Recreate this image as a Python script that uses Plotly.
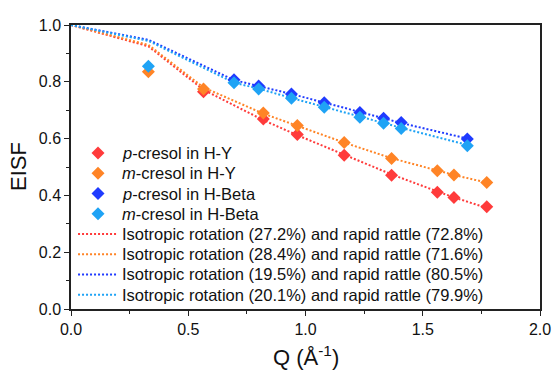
import plotly.graph_objects as go

# Measured data
q_hy = [0.33, 0.565, 0.82, 0.965, 1.165, 1.367, 1.562, 1.633, 1.773]
p_cresol_hy = [None, 0.765, 0.669, 0.614, 0.541, 0.471, 0.411, 0.393, 0.360]
m_cresol_hy = [0.835, 0.775, 0.690, 0.646, 0.586, 0.530, 0.487, 0.472, 0.445]

q_beta = [0.33, 0.695, 0.80, 0.94, 1.08, 1.232, 1.333, 1.408, 1.69]
p_cresol_beta = [None, 0.807, 0.785, 0.757, 0.726, 0.692, 0.672, 0.657, 0.599]
m_cresol_beta = [0.855, 0.797, 0.775, 0.742, 0.710, 0.675, 0.654, 0.636, 0.575]

# Fit curves
fit_q_hy = [0, 0.33, 0.565, 0.82, 0.965, 1.165, 1.367, 1.562, 1.633, 1.773]
fit_p_hy = [1.0, 0.925, 0.772, 0.665, 0.612, 0.542, 0.474, 0.414, 0.393, 0.356]
fit_m_hy = [1.0, 0.930, 0.780, 0.688, 0.645, 0.586, 0.531, 0.487, 0.472, 0.445]

fit_q_beta = [0, 0.33, 0.695, 0.80, 0.94, 1.08, 1.232, 1.333, 1.408, 1.69]
fit_p_beta = [1.0, 0.948, 0.806, 0.786, 0.757, 0.727, 0.693, 0.671, 0.655, 0.600]
fit_m_beta = [1.0, 0.944, 0.797, 0.776, 0.743, 0.711, 0.676, 0.655, 0.638, 0.578]

names_pts = ["<i>p</i>-cresol in H-Y", "<i>m</i>-cresol in H-Y",
             "<i>p</i>-cresol in H-Beta", "<i>m</i>-cresol in H-Beta"]
names_fit = ["Isotropic rotation (27.2%) and rapid rattle (72.8%)",
             "Isotropic rotation (28.4%) and rapid rattle (71.6%)",
             "Isotropic rotation (19.5%) and rapid rattle (80.5%)",
             "Isotropic rotation (20.1%) and rapid rattle (79.9%)"]
colors = ["#FF3B3B", "#FF8426", "#1F3BFF", "#1FA3F5"]

x_title = "Q (Å<sup>-1</sup>)"
y_title = "EISF"

FONT = "Liberation Sans, Arial, sans-serif"
DASH = "2px,2px"
MSIZE = 10

fig = go.Figure()

fits = [(fit_q_hy, fit_p_hy), (fit_q_hy, fit_m_hy), (fit_q_beta, fit_p_beta), (fit_q_beta, fit_m_beta)]
pts = [(q_hy, p_cresol_hy), (q_hy, m_cresol_hy), (q_beta, p_cresol_beta), (q_beta, m_cresol_beta)]

for i, (xq, yv) in enumerate(fits):
    fig.add_trace(go.Scatter(x=xq, y=yv, mode="lines", name=names_fit[i], showlegend=False,
                             line=dict(color=colors[i], width=2, dash=DASH)))
for i, (xq, yv) in enumerate(pts):
    fig.add_trace(go.Scatter(x=xq, y=yv, mode="markers", name=names_pts[i], showlegend=False,
                             marker=dict(symbol="diamond", size=MSIZE, color=colors[i],
                                         line=dict(width=0))))

# Manual legend (paper-fraction coordinates on hidden overlay axes)
leg_row0 = 0.549
leg_step = 0.0712
leg_sym_x = 0.0576
leg_line_x0, leg_line_x1 = 0.015, 0.098
leg_text_x = 0.104
rows = [leg_row0 - k * leg_step for k in range(8)]

for i in range(4):
    fig.add_trace(go.Scatter(x=[leg_sym_x], y=[rows[i]], mode="markers", showlegend=False,
                             xaxis="x2", yaxis="y2", hoverinfo="skip",
                             marker=dict(symbol="diamond", size=MSIZE, color=colors[i],
                                         line=dict(width=0))))
    fig.add_trace(go.Scatter(x=[leg_line_x0, leg_line_x1], y=[rows[4 + i]] * 2, mode="lines",
                             showlegend=False, xaxis="x2", yaxis="y2", hoverinfo="skip",
                             line=dict(color=colors[i], width=2, dash=DASH)))

annots = []
for k, txt in enumerate(names_pts + names_fit):
    annots.append(dict(x=leg_text_x, y=rows[k], xref="paper", yref="paper",
                       xanchor="left", yanchor="middle", showarrow=False,
                       text=txt, font=dict(family=FONT, size=16.5, color="#111")))
# axis titles
annots.append(dict(x=0.5, y=-0.166, xref="paper", yref="paper", xanchor="center",
                   yanchor="middle", showarrow=False, text=x_title,
                   font=dict(family=FONT, size=22, color="#111")))
annots.append(dict(x=-0.113, y=0.5, xref="paper", yref="paper", xanchor="center",
                   yanchor="middle", showarrow=False, text=y_title, textangle=-90,
                   font=dict(family=FONT, size=22, color="#111")))

axis_common = dict(showline=True, linecolor="#222", linewidth=1.5, mirror=True,
                   ticks="outside", ticklen=5, tickwidth=1.2, tickcolor="#222",
                   showgrid=False, zeroline=False, automargin=False,
                   tickfont=dict(family=FONT, size=16, color="#111"))

fig.update_layout(
    width=552, height=370,
    margin=dict(l=71, r=12, t=25, b=61),
    paper_bgcolor="white", plot_bgcolor="white",
    font=dict(family=FONT, color="#111"),
    showlegend=False,
    annotations=annots,
    xaxis=dict(range=[0, 2.0], dtick=0.5, tickformat=".1f",
               minor=dict(dtick=0.25, ticks="outside", ticklen=3, tickcolor="#222"),
               **axis_common),
    yaxis=dict(range=[0, 1.0], dtick=0.2, tickformat=".1f",
               minor=dict(dtick=0.1, ticks="outside", ticklen=3, tickcolor="#222"),
               **axis_common),
    xaxis2=dict(range=[0, 1], overlaying="x", visible=False, fixedrange=True),
    yaxis2=dict(range=[0, 1], overlaying="y", visible=False, fixedrange=True),
)

fig.write_html("out.html", config={"displayModeBar": False},
               post_script="document.body.style.margin='0';document.body.style.padding='0';")
